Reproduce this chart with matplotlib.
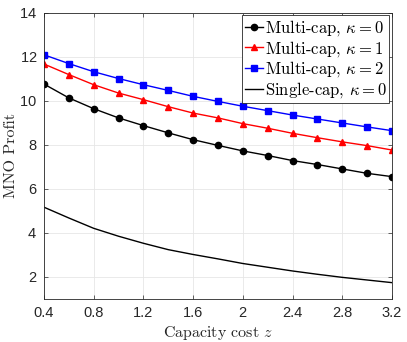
import matplotlib
matplotlib.use("Agg")
import matplotlib.pyplot as plt
import numpy as np

plt.rcParams['mathtext.fontset'] = 'cm'
plt.rcParams['font.family'] = 'serif'
plt.rcParams['font.serif'] = ['cmr10']
plt.rcParams['axes.formatter.use_mathtext'] = True

# capacity cost values
z = [0.4, 0.6, 0.8, 1.0, 1.2, 1.4, 1.6, 1.8, 2.0, 2.2, 2.4, 2.6, 2.8, 3.0, 3.2]

# MNO profit for each scheme
multi_k0 = [10.77, 10.14, 9.65, 9.23, 8.88, 8.55, 8.24, 7.98, 7.73, 7.52, 7.29, 7.11, 6.91, 6.71, 6.56]
multi_k1 = [11.68, 11.20, 10.74, 10.36, 10.06, 9.74, 9.45, 9.23, 8.97, 8.76, 8.53, 8.33, 8.14, 7.97, 7.77]
multi_k2 = [12.10, 11.70, 11.33, 11.02, 10.74, 10.48, 10.21, 9.98, 9.76, 9.56, 9.36, 9.18, 9.00, 8.82, 8.65]
single_k0 = [5.17, 4.68, 4.21, 3.85, 3.53, 3.24, 3.02, 2.82, 2.61, 2.44, 2.27, 2.12, 1.98, 1.86, 1.74]

xticks = [0.4, 0.8, 1.2, 1.6, 2.0, 2.4, 2.8, 3.2]
xtick_labels = ['0.4', '0.8', '1.2', '1.6', '2', '2.4', '2.8', '3.2']
yticks = [2, 4, 6, 8, 10, 12, 14]

fig = plt.figure(figsize=(4.07, 3.42), dpi=100)
ax = fig.add_axes([0.108, 0.126, 0.855, 0.836])

ax.plot(z, multi_k0, '-o', color='k', lw=1.0, ms=4.5, label=r'Multi-cap, $\kappa = 0$')
ax.plot(z, multi_k1, '-^', color='r', lw=1.0, ms=4.5, label=r'Multi-cap, $\kappa = 1$')
ax.plot(z, multi_k2, '-s', color='b', lw=1.0, ms=4, label=r'Multi-cap, $\kappa = 2$')
ax.plot(z, single_k0, '-', color='k', lw=1.0, label=r'Single-cap, $\kappa = 0$')

ax.set_xlim(0.4, 3.2)
ax.set_ylim(1, 14)
ax.set_xticks(xticks)
ax.set_xticklabels(xtick_labels)
ax.set_yticks(yticks)
for lab in ax.get_xticklabels() + ax.get_yticklabels():
    lab.set_family('Liberation Sans')
    lab.set_fontsize(10.5)
    lab.set_color('#262626')

ax.grid(True, color='#e6e6e6', lw=0.6)
ax.set_axisbelow(True)
ax.tick_params(direction='in', length=3, width=0.5, color='#262626', top=True, right=True, pad=5)
for sp in ax.spines.values():
    sp.set_linewidth(0.6)
    sp.set_color('#262626')

ax.set_xlabel(r'Capacity cost $z$', fontsize=11.5, color='#262626', labelpad=3)
ax.set_ylabel('MNO Profit', fontsize=11.5, color='#262626', labelpad=1)

leg = ax.legend(loc='upper right', fontsize=12, handlelength=1.1, handletextpad=0.1,
                borderpad=0.15, labelspacing=0.05, borderaxespad=0.15, fancybox=False,
                framealpha=1, edgecolor='#262626')
leg.get_frame().set_linewidth(0.6)

fig.savefig('out.png', dpi=100)
